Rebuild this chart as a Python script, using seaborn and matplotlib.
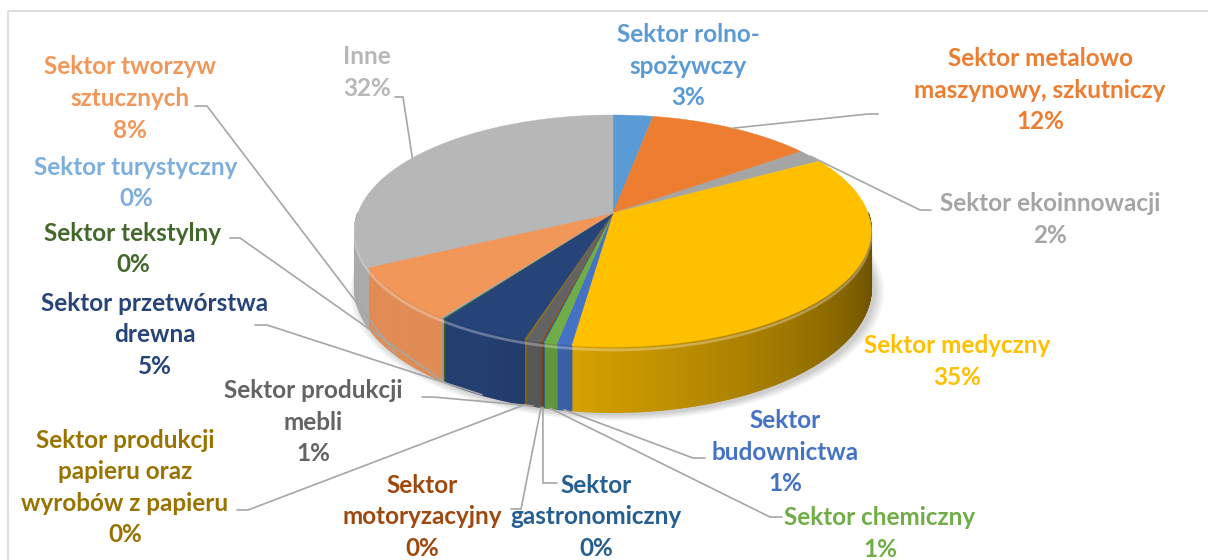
import numpy as np
import matplotlib
matplotlib.use("Agg")
import matplotlib.pyplot as plt
import seaborn as sns
from matplotlib.patches import Polygon, Rectangle
from matplotlib.collections import PolyCollection
from matplotlib.colors import to_rgb

# ---------------- data ----------------
categories = [
    "Sektor rolno-\nspożywczy",
    "Sektor metalowo\nmaszynowy, szkutniczy",
    "Sektor ekoinnowacji",
    "Sektor medyczny",
    "Sektor\nbudownictwa",
    "Sektor chemiczny",
    "Sektor\ngastronomiczny",
    "Sektor\nmotoryzacyjny",
    "Sektor produkcji\nmebli",
    "Sektor produkcji\npapieru oraz\nwyrobów z papieru",
    "Sektor przetwórstwa\ndrewna",
    "Sektor tekstylny",
    "Sektor turystyczny",
    "Sektor tworzyw\nsztucznych",
    "Inne",
]
shares = [2.9, 12.0, 1.9, 35.4, 0.8, 0.7, 0.1, 0.1, 0.8, 0.1, 5.0, 0.1, 0.1, 7.6, 32.4]
palette = ["#5B9BD5", "#ED7D31", "#A5A5A5", "#FFC000", "#4472C4", "#70AD47",
           "#255E91", "#9E480E", "#636363", "#997300", "#264478", "#43682B",
           "#7CAFDD", "#F1975A", "#B7B7B7"]

# ---------------- layout (pixels) ----------------
label_xy = [(688, 66), (1040, 90), (1050, 219.5), (957, 361.5), (785, 452),
            (880, 533.5), (596, 517), (422, 517), (313, 422), (125, 487.5),
            (155, 335), (133, 249), (136, 183), (130, 98.5), (367, 72.5)]
leaders = [None, ((868, 114), (878, 114)), ((920, 210), (931, 210)), None,
           ((693, 458), (705, 458)), ((770, 517), (782, 517)),
           ((543, 483), (557, 483)), ((521, 509), (511, 509)),
           ((433, 397), (422, 397)), ((248, 510), (237, 510)),
           ((267, 325), (255, 325)), ((240, 238), (230, 238)), None,
           ((207, 106), (195, 106)), ((403, 97), (395, 97))]

CX, CY = 613.0, 213.0     # apex
R, RY = 255.0, 113.2      # radii
P = 0.155                 # perspective
H = 55.0                  # wall thickness

sns.set_theme(style="white")
plt.rcParams["font.family"] = ["Lato", "DejaVu Sans"]

fig = plt.figure(figsize=(12.08, 5.6), dpi=100)
ax = fig.add_axes([0, 0, 1, 1])
ax.set_xlim(0, 1208)
ax.set_ylim(560, 0)
ax.axis("off")

ax.add_patch(Rectangle((8, 11), 1220, 580, fill=False, edgecolor="#D9D9D9", lw=1.2))


def proj(theta_deg, z=0.0):
    t = np.radians(theta_deg)
    w = np.cos(t)
    k = 1.0 / (1.0 + P * w)
    return CX + R * np.sin(t) * k, CY - RY * w * k + H * k * z


def shade(theta):
    return min(0.35 + 0.6 * (theta - 90.0) / 120.0, 0.93)


cum = np.concatenate([[0.0], np.cumsum(shares)])
cum = cum / cum[-1] * 360.0

# shadow
ts = np.linspace(0, 360, 361)
for s in range(10):
    sc = 1.0 + 0.004 * s
    bx, by = proj(ts, 1.0)
    bx = CX + (bx - CX) * sc + 4
    by = (CY + 40) + (by - CY - 40) * sc + 3
    ax.add_patch(Polygon(np.column_stack([bx, by]), closed=True,
                         facecolor="black", edgecolor="none", alpha=0.018, zorder=1))

# walls
polys, cols = [], []
for i, c in enumerate(palette):
    a0, a1 = max(cum[i], 90.0), min(cum[i + 1], 270.0)
    if a1 <= a0:
        continue
    n = max(1, int(np.ceil((a1 - a0) / 0.7)))
    edges = np.linspace(a0, a1, n + 1)
    rgb = np.array(to_rgb(c))
    for t0, t1 in zip(edges[:-1], edges[1:]):
        x0, y0 = proj(t0)
        x1, y1 = proj(t1)
        x2, y2 = proj(t1, 1.0)
        x3, y3 = proj(t0, 1.0)
        polys.append([(x0, y0), (x1, y1), (x2, y2), (x3, y3)])
        cols.append(np.clip(rgb * shade(0.5 * (t0 + t1)), 0, 1))
ax.add_collection(PolyCollection(polys, facecolors=cols, edgecolors=cols,
                                 linewidths=1.3, zorder=2))

# bevel highlight
tf = np.linspace(92, 268, 200)
hx, hy = proj(tf)
ax.plot(hx, hy + 3, color="white", alpha=0.3, lw=2.0, zorder=3)

# top faces
for i, c in enumerate(palette):
    a0, a1 = cum[i], cum[i + 1]
    tt = np.linspace(a0, a1, max(3, int((a1 - a0) / 0.5) + 2))
    px, py = proj(tt)
    pts = np.vstack([[CX, CY], np.column_stack([px, py])])
    ax.add_patch(Polygon(pts, closed=True, facecolor=c, edgecolor=c, lw=0.3, zorder=4))

# labels and leader lines
for i, (cat, v, c) in enumerate(zip(categories, shares, palette)):
    x, y = label_xy[i]
    ax.text(x, y, f"{cat}\n{int(round(v))}%", color=c, fontsize=17.5, fontweight="bold",
            ha="center", va="center", multialignment="center", linespacing=1.45, zorder=6)
    if leaders[i] is not None:
        mid = 0.5 * (cum[i] + cum[i + 1])
        z = 0.0 if np.cos(np.radians(mid)) > 0 else 1.0
        axp, ayp = proj(mid, z)
        (ex, ey), (sx, sy) = leaders[i]
        ax.plot([axp, ex, sx], [ayp, ey, sy], color="#A6A6A6", lw=1.2, zorder=5,
                solid_joinstyle="miter")

fig.savefig("out.png", dpi=100, facecolor="white")
